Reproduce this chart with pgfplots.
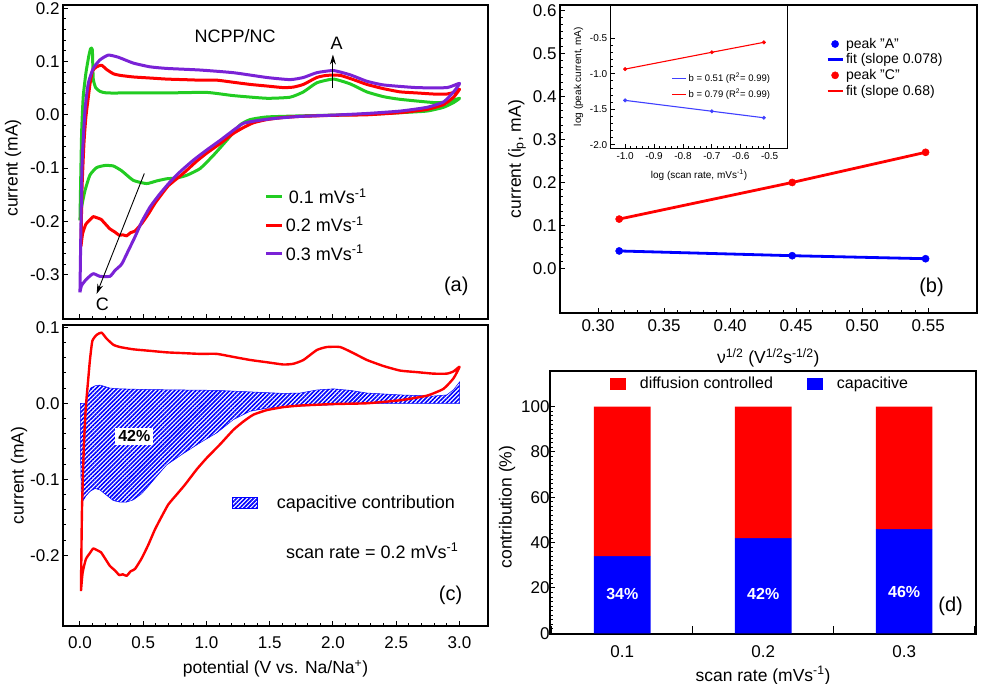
\documentclass[border=0pt]{standalone}
\usepackage{fontspec}
\setmainfont{Liberation Sans}
\usepackage{pgfplots}
\usepackage{pgfplotstable}
\pgfplotsset{compat=1.18}
\usetikzlibrary{arrows.meta,patterns.meta}

\definecolor{cvgreen}{RGB}{34,204,34}
\definecolor{cvpurple}{RGB}{122,34,214}

\newcommand{\fs}[1]{\fontsize{#1}{#1}\selectfont}
\newcommand{\upm}{\textsuperscript{-1}}

% CV curves (a) and (c)
\pgfplotstableread{
x y
0.008 -0.247
0.021 -0.223
0.047 -0.205
0.079 -0.197
0.105 -0.191
0.132 -0.193
0.166 -0.196
0.198 -0.204
0.237 -0.214
0.277 -0.220
0.311 -0.226
0.338 -0.225
0.369 -0.227
0.401 -0.221
0.435 -0.218
0.488 -0.204
0.541 -0.186
0.593 -0.166
0.646 -0.149
0.699 -0.133
0.765 -0.120
0.831 -0.107
0.923 -0.087
1.002 -0.072
1.108 -0.054
1.213 -0.035
1.292 -0.024
1.371 -0.015
1.477 -0.009
1.609 -0.005
1.741 -0.003
2.004 -0.001
2.268 0.000
2.532 0.004
2.743 0.010
2.874 0.019
2.954 0.033
3.001 0.048
2.954 0.042
2.901 0.039
2.795 0.039
2.663 0.041
2.532 0.043
2.400 0.049
2.268 0.057
2.162 0.066
2.057 0.074
1.951 0.074
1.872 0.070
1.767 0.057
1.688 0.052
1.609 0.051
1.477 0.054
1.345 0.057
1.213 0.061
1.081 0.065
0.949 0.065
0.818 0.066
0.686 0.067
0.554 0.069
0.422 0.071
0.316 0.074
0.264 0.077
0.211 0.085
0.171 0.093
0.132 0.090
0.098 0.082
0.079 0.057
0.063 0.027
0.047 -0.004
0.032 -0.052
0.016 -0.140
0.008 -0.247
}\redcv

\pgfplotstableread{
x y
0.000 -0.198
0.013 -0.173
0.040 -0.142
0.079 -0.113
0.132 -0.099
0.198 -0.095
0.264 -0.096
0.330 -0.105
0.422 -0.123
0.527 -0.129
0.607 -0.124
0.686 -0.120
0.765 -0.1185
0.844 -0.1135
0.949 -0.101
1.055 -0.076
1.160 -0.048
1.266 -0.019
1.345 -0.009
1.477 -0.004
1.741 -0.002
2.004 -0.0006
2.268 0.001
2.532 0.004
2.743 0.007
2.874 0.014
2.954 0.023
3.001 0.031
2.901 0.024
2.795 0.023
2.532 0.029
2.400 0.034
2.268 0.043
2.136 0.058
2.004 0.067
1.872 0.060
1.767 0.043
1.661 0.033
1.477 0.031
1.213 0.036
1.002 0.042
0.686 0.041
0.422 0.041
0.211 0.041
0.158 0.044
0.124 0.051
0.105 0.068
0.098 0.122
0.084 0.124
0.069 0.109
0.047 0.078
0.026 0.034
0.013 -0.035
0.000 -0.198
}\greencv

\pgfplotstableread{
x y
0.000 -0.333
0.013 -0.320
0.053 -0.308
0.105 -0.298
0.158 -0.303
0.237 -0.303
0.277 -0.292
0.330 -0.280
0.382 -0.255
0.435 -0.229
0.488 -0.201
0.554 -0.173
0.633 -0.148
0.712 -0.126
0.791 -0.107
0.897 -0.085
1.002 -0.066
1.108 -0.048
1.213 -0.029
1.292 -0.016
1.398 -0.011
1.530 -0.007
1.741 -0.003
2.004 -0.0006
2.268 0.0025
2.532 0.007
2.743 0.014
2.874 0.024
2.954 0.043
3.001 0.059
2.901 0.051
2.663 0.051
2.400 0.056
2.268 0.063
2.136 0.075
2.004 0.083
1.872 0.079
1.767 0.070
1.661 0.066
1.477 0.070
1.213 0.079
0.949 0.084
0.686 0.087
0.554 0.090
0.422 0.097
0.303 0.108
0.224 0.112
0.158 0.103
0.105 0.087
0.066 0.059
0.040 0.009
0.016 -0.098
0.000 -0.333
}\purplecv

\pgfplotstableread{
x y
0.003 0.0
0.047 0.0
0.063 0.011
0.084 0.020
0.119 0.023
0.158 0.024
0.237 0.020
0.316 0.019
0.554 0.018
0.818 0.0175
1.081 0.017
1.345 0.015
1.609 0.013
1.741 0.0135
1.872 0.0175
2.004 0.019
2.136 0.017
2.268 0.0135
2.532 0.011
2.795 0.0095
2.901 0.011
2.954 0.018
3.001 0.028
3.001 0.0
2.268 0.0
2.004 -0.002
1.609 -0.0045
1.477 -0.0065
1.345 -0.0105
1.213 -0.0215
1.081 -0.039
0.949 -0.052
0.818 -0.066
0.686 -0.081
0.607 -0.096
0.541 -0.109
0.488 -0.119
0.422 -0.127
0.369 -0.130
0.316 -0.130
0.264 -0.128
0.211 -0.121
0.158 -0.114
0.119 -0.112
0.079 -0.116
0.047 -0.122
0.021 -0.129
0.013 -0.140
0.003 -0.052
}\capcv

\pgfplotsset{
  panel/.style={
    scale only axis,
    anchor=south west,
    axis line style={line width=1.6pt},
    tick align=inside,
    xtick pos=lower, ytick pos=lower,
    major tick length=5pt, minor tick length=3pt,
    every tick/.append style={line width=1pt,black},
    every minor tick/.append style={line width=.9pt,black},
    tick label style={font=\fs{17}},
    label style={font=\fs{17.5}},
    scaled ticks=false,
    /pgf/number format/assume math mode=true,
    /pgf/number format/fixed,
    /pgf/number format/fixed zerofill,
  },
  nobox/.style={draw=none,fill=none,inner sep=0pt},
}

\begin{document}
\begin{tikzpicture}[x=1pt,y=1pt]
\useasboundingbox (0,0) rectangle (982,684);

% (a)
\begin{axis}[panel,
  at={(63pt,365pt)}, width=425pt, height=314pt,
  xmin=-0.134, xmax=3.226, ymin=-0.383, ymax=0.206,
  xtick={0,0.5,...,3}, xticklabels={},
  ytick={-0.3,-0.2,-0.1,0,0.1,0.2},
  /pgf/number format/precision=1,
  minor x tick num=4, minor y tick num=4,
  ylabel={current (mA)}, ylabel shift=2pt,
  ylabel style={xshift=-6pt},
  legend style={nobox, at={(axis cs:1.46,-0.134)}, anchor=north west, font=\fs{18}, row sep=8pt},
  legend cell align=left,
  legend image code/.code={\draw[#1] (0,0) -- (16pt,0);},
  every axis plot/.append style={line width=3pt, line join=round, smooth, tension=0.3},
]
\addplot[cvgreen] table {\greencv}; \addlegendentry{\hspace{3pt}0.1 mVs\upm}
\addplot[red] table {\redcv}; \addlegendentry{0.2 mVs\upm}
\addplot[cvpurple] table {\purplecv}; \addlegendentry{0.3 mVs\upm}
\draw[-{Stealth[length=10pt,width=6pt]},line width=.9pt] (axis cs:2.0,0.05) -- (axis cs:2.0,0.113);
\draw[-{Stealth[length=10pt,width=6pt]},line width=.9pt] (axis cs:0.509,-0.11) -- (axis cs:0.132,-0.336);
\node[font=\fs{18}] at (axis cs:2.03,0.134) {A};
\node[font=\fs{18}] at (axis cs:0.177,-0.355) {C};
\node[font=\fs{18}] at (axis cs:1.226,0.147) {NCPP/NC};
\node[font=\fs{20}] at (axis cs:2.975,-0.322) {(a)};
\end{axis}

% (c)
\begin{axis}[panel,
  at={(63pt,58pt)}, width=425pt, height=301pt,
  xmin=-0.134, xmax=3.226, ymin=-0.293, ymax=0.103,
  xtick={0,0.5,...,3},
  ytick={-0.2,-0.1,0,0.1},
  /pgf/number format/precision=1,
  minor x tick num=4, minor y tick num=4,
  xticklabel shift=7pt,
  xlabel={potential (V vs. Na/Na\textsuperscript{+})}, xlabel shift=5pt,
  ylabel={current (mA)}, ylabel shift=-4pt,
  legend style={nobox, at={(axis cs:1.2,-0.131)}, anchor=west, font=\fs{18}},
  legend image code/.code={\draw[#1] (0,-5.5pt) rectangle (25pt,5.5pt);},
]
\addplot[draw=blue, line width=.5pt, pattern={Lines[angle=45,distance=3pt,line width=1.6pt]}, pattern color=blue] table {\capcv} -- cycle;
\addlegendentry{\hspace{17.5pt}capacitive contribution}
\addplot[red, line width=2.4pt, line join=round, smooth, tension=0.3, forget plot] table {\redcv};
\node[font=\bfseries\fs{16}, fill=white, inner sep=3pt] at (axis cs:0.43,-0.0434) {42\%};
\node[font=\fs{18}, anchor=east] at (axis cs:3.02,-0.194) {scan rate = 0.2 mVs\upm};
\node[font=\fs{20}] at (axis cs:2.93,-0.252) {(c)};
\end{axis}

% (b)
\begin{axis}[panel,
  at={(560pt,371pt)}, width=416.7pt, height=308pt,
  xmin=0.2712, xmax=0.5867, ymin=-0.103, ymax=0.612,
  xtick={0.30,0.35,...,0.55}, ytick={0,0.1,...,0.6},
  x tick label style={/pgf/number format/precision=2},
  y tick label style={/pgf/number format/precision=1},
  minor x tick num=4, minor y tick num=5,
  xticklabel shift=3pt,
  xlabel={ν\textsuperscript{1/2} (V\textsuperscript{1/2}s\textsuperscript{-1/2})}, xlabel shift=10pt,
  ylabel={current (i\textsubscript{p}, mA)},
  legend style={nobox, at={(axis cs:0.4726,0.540)}, anchor=north west, font=\fs{14}},
  legend cell align=left,
  legend image code/.code={\draw[#1] (0,0) -- (15pt,0);},
]
\addplot[only marks, blue, mark=*, mark size=3.6pt, legend image code/.code={\fill[blue] (7.5pt,0) circle (3.6pt);}] coordinates {(0.316,0.041) (0.447,0.030) (0.548,0.023)};
\addlegendentry{peak "A"}
\addplot[blue, line width=2.8pt] coordinates {(0.316,0.041) (0.447,0.030) (0.548,0.023)};
\addlegendentry{fit (slope 0.078)}
\addplot[only marks, red, mark=*, mark size=3.6pt, legend image code/.code={\fill[red] (7.5pt,0) circle (3.6pt);}] coordinates {(0.316,0.115) (0.447,0.200) (0.548,0.270)};
\addlegendentry{peak "C"}
\addplot[red, line width=2.8pt] coordinates {(0.316,0.115) (0.447,0.200) (0.548,0.270)};
\addlegendentry{fit (slope 0.68)}
\node[font=\fs{20}] at (axis cs:0.5525,-0.0425) {(b)};
\end{axis}

% inset of (b)
\begin{axis}[panel,
  at={(610.7pt,535.7pt)}, width=176.6pt, height=143.3pt,
  axis background/.style={fill=white},
  xmin=-1.05, xmax=-0.439, ymin=-2.05, ymax=-0.031,
  xtick={-1,-0.9,...,-0.5}, ytick={-2,-1.5,-1,-0.5},
  /pgf/number format/precision=1,
  minor x tick num=4, minor y tick num=4,
  major tick length=4pt, minor tick length=2pt,
  axis line style={line width=1.3pt},
  every tick/.append style={line width=.9pt},
  tick label style={font=\fs{10}},
  label style={font=\fs{10}},
  xticklabel shift=1pt,
  xlabel={log (scan rate, mVs\upm)}, xlabel shift=3pt,
  ylabel={log (peak current, mA)},
  legend style={nobox, at={(axis cs:-0.84,-0.96)}, anchor=north west, font=\fs{9.5}, row sep=2pt},
  legend cell align=left,
  legend image code/.code={\draw[#1] (0,0) -- (14pt,0);},
]
\addplot[blue!75!white, line width=1.1pt] coordinates {(-1,-1.375) (-0.7,-1.528) (-0.52,-1.62)};
\addlegendentry{b = 0.51 (R\textsuperscript{2}= 0.99)}
\addplot[red, line width=1.1pt] coordinates {(-1,-0.934) (-0.7,-0.697) (-0.52,-0.557)};
\addlegendentry{b = 0.79 (R\textsuperscript{2}= 0.99)}
\addplot[only marks, blue!75!white, mark=*, mark size=1.8pt, forget plot] coordinates {(-1,-1.375) (-0.7,-1.528) (-0.52,-1.62)};
\addplot[only marks, red, mark=*, mark size=1.8pt, forget plot] coordinates {(-1,-0.934) (-0.7,-0.697) (-0.52,-0.557)};
\end{axis}

% (d)
\begin{axis}[panel,
  at={(550pt,50pt)}, width=426pt, height=263pt,
  xmin=0.0487, xmax=0.351, ymin=-0.3, ymax=115.7,
  ybar stacked, bar width=56.7pt, reverse stacked plots=false,
  xtick={0.1,0.2,0.3}, xticklabels={0.1,0.2,0.3},
  extra x ticks={0.05,0.15,0.25,0.35}, extra x tick labels={},
  extra x tick style={major tick length=8pt},
  ytick={0,20,...,100},
  yticklabel style={/pgf/number format/fixed zerofill=false,/pgf/number format/precision=0},
  minor y tick num=9,
  xticklabel shift=8pt,
  xlabel={scan rate (mVs\upm)}, xlabel shift=-14pt,
  yticklabel shift=-3pt,
  ylabel={contribution (\%)}, ylabel shift=-1pt,
  ylabel style={xshift=-4.5pt},
  legend style={nobox, at={(axis cs:0.0911,110)}, anchor=west, font=\fs{16}, legend columns=2, /tikz/every even column/.append style={column sep=32pt}},
  legend image code/.code={\fill[#1] (0,-5.5pt) rectangle (15.5pt,5.5pt);},
  legend cell align=left,
]
\addlegendimage{red}
\addlegendentry{\hspace{12pt}diffusion controlled}
\addlegendimage{blue}
\addlegendentry{\hspace{12pt}capacitive}
\addplot[fill=blue, draw=none, forget plot] coordinates {(0.1,34) (0.2,42) (0.3,46)};
\addplot[fill=red, draw=none, forget plot] coordinates {(0.1,66) (0.2,58) (0.3,54)};
\node[font=\bfseries\fs{16}, white] at (axis cs:0.1,17.3) {34\%};
\node[font=\bfseries\fs{16}, white] at (axis cs:0.2,17.3) {42\%};
\node[font=\bfseries\fs{16}, white] at (axis cs:0.3,18.4) {46\%};
\node[font=\fs{20}] at (axis cs:0.333,12) {(d)};
\end{axis}
\end{tikzpicture}
\end{document}
